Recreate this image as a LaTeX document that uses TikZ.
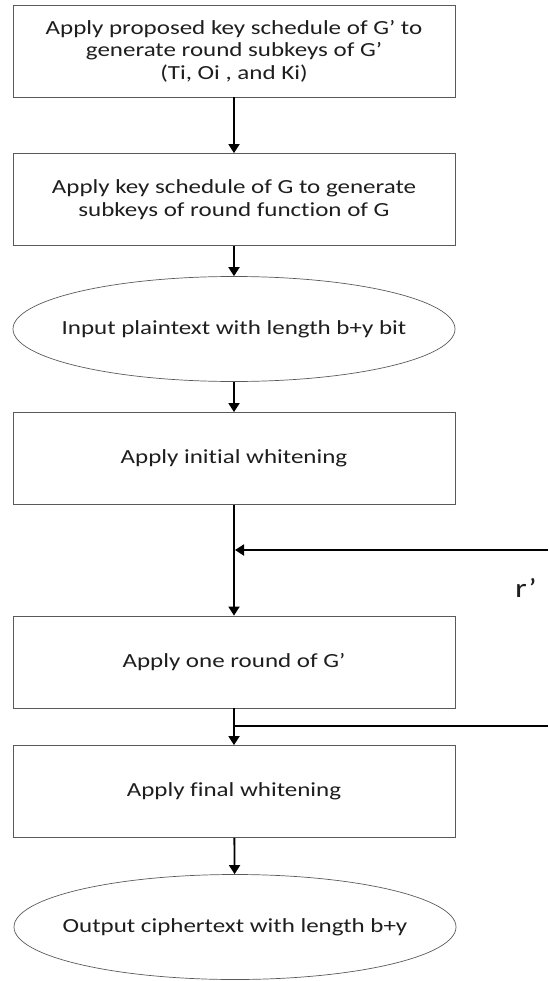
\documentclass[tikz,border=0pt]{standalone}
\usepackage{fontspec}
\setmainfont{Carlito}[FakeStretch=1.25,Ligatures={NoCommon}]
\usepackage{tikz}
\usepackage{xcolor}
\usetikzlibrary{arrows.meta,calc,positioning,shapes.geometric}
\definecolor{BoxGray}{HTML}{5A5A5A}
\definecolor{TextDark}{HTML}{1E1E1E}

\begin{document}
\begin{tikzpicture}[
      x=1pt,y=-1pt,
      font=\fontsize{20}{22.5}\selectfont,
      text=TextDark,
      >={Triangle[width=11pt,length=9pt]},
      stepbox/.style={draw=BoxGray,line width=0.8pt,minimum width=442pt,minimum height=92pt,align=center,inner sep=0pt},
      iobox/.style={ellipse,draw=BoxGray,line width=0.7pt,minimum width=442pt,minimum height=105pt,align=center,inner xsep=-60pt,inner ysep=0pt},
      arr/.style={->,line width=1.8pt,draw=black},
      flow/.style={line width=1.8pt,draw=black}
    ]
      \useasboundingbox (0,0) rectangle (548,981);
      \node[stepbox] (subkeys) at (234,51) {Apply proposed key schedule of G’ to\\generate round subkeys of G’\\(Ti, Oi , and Ki)};
      \node[stepbox] (roundkeys) at (234,199.5) {Apply key schedule of G to generate\\subkeys of round function of G};
      \node[iobox] (plain) at (234,329) {Input plaintext with length b+y bit};
      \node[stepbox] (initwhite) at (234,458.5) {Apply initial whitening};
      \node[stepbox] (oneround) at (234,662) {Apply one round of G’};
      \node[stepbox] (finalwhite) at (234,791.5) {Apply final whitening};
      \node[iobox] (cipher) at (235,927) {Output ciphertext with length b+y};
      \node[font=\fontsize{27}{30}\selectfont] (rcount) at (526,588) {r’};
      \coordinate (loopin) at (548,550);
      \coordinate (loopout) at (548,726);
      \coordinate (join) at (initwhite.south |- loopin);
      \draw[arr] (subkeys) -- (roundkeys);
      \draw[arr] (roundkeys) -- (plain);
      \draw[arr] (plain) -- (initwhite);
      \draw[arr] (initwhite) -- (oneround);
      \draw[arr] (loopin) -- ($(join)+(1,0)$);
      \draw[arr] (oneround) -- (finalwhite);
      \draw[flow] (oneround.south |- loopout) -- (loopout);
      \draw[arr] (finalwhite) -- (cipher);
    \end{tikzpicture}
\end{document}
